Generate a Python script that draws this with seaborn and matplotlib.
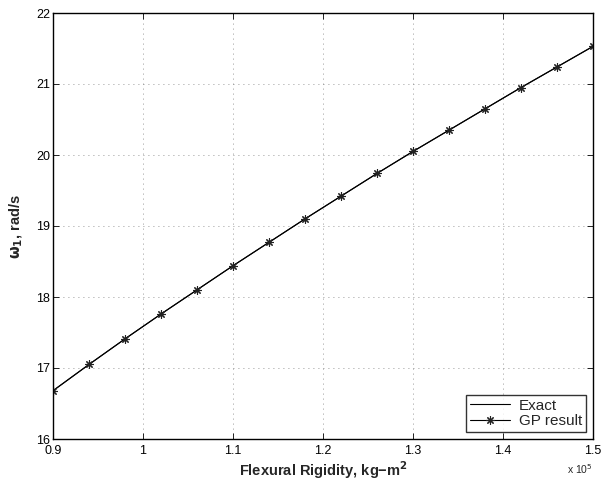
import matplotlib
matplotlib.use("Agg")
import matplotlib.pyplot as plt
import seaborn as sns
import pandas as pd

rigidity = [0.90, 0.94, 0.98, 1.02, 1.06, 1.10, 1.14, 1.18, 1.22, 1.26, 1.30, 1.34, 1.38, 1.42, 1.46, 1.50]
exact = [16.68, 17.05, 17.41, 17.76, 18.10, 18.44, 18.77, 19.10, 19.42, 19.74, 20.05, 20.35, 20.65, 20.95, 21.24, 21.53]
gp_result = [16.68, 17.05, 17.41, 17.76, 18.10, 18.44, 18.77, 19.10, 19.42, 19.74, 20.05, 20.35, 20.65, 20.95, 21.24, 21.53]
x_ticks = [0.9, 1.0, 1.1, 1.2, 1.3, 1.4, 1.5]
x_tick_labels = ["0.9", "1", "1.1", "1.2", "1.3", "1.4", "1.5"]
y_ticks = [16, 17, 18, 19, 20, 21, 22]

sns.set_style("white")
plt.rcParams['font.family'] = ['Liberation Sans', 'DejaVu Sans']

df_exact = pd.DataFrame({"x": rigidity, "y": exact})
df_gp = pd.DataFrame({"x": rigidity, "y": gp_result})

fig = plt.figure(figsize=(6.07, 4.84), dpi=100)
ax = fig.add_axes([53/607, 1 - 439/484, 540/607, 426/484])

sns.lineplot(data=df_exact, x="x", y="y", ax=ax, color="black", linewidth=0.8, label="Exact")
sns.lineplot(data=df_gp, x="x", y="y", ax=ax, color="black", linewidth=0.8,
             marker=(8, 2, 0), markersize=6, markeredgecolor="#222222", markeredgewidth=0.8,
             label="GP result")

ax.set_xlim(0.9, 1.5)
ax.set_ylim(16, 22)
ax.set_xticks(x_ticks)
ax.set_xticklabels(x_tick_labels)
ax.set_yticks(y_ticks)
ax.tick_params(direction="in", length=4, width=0.6, labelsize=9, top=True, right=True,
               bottom=True, left=True, pad=2, colors="black")
ax.tick_params(axis="x", pad=4)
ax.grid(True, linestyle=(0, (1, 5)), color="#777777", linewidth=0.6)
for s in ax.spines.values():
    s.set_color("black")
    s.set_linewidth(1.0)

ax.set_xlabel("Flexural Rigidity, kg\u2212m$^\\mathbf{2}$", fontsize=10.5, fontweight="bold", labelpad=2)
ax.set_ylabel("$\\mathbf{\\omega_1}$, rad/s", fontsize=10.5, fontweight="bold", labelpad=8)
ax.text(1.0, -0.055, "x 10$^5$", transform=ax.transAxes, ha="right", va="top", fontsize=7.5)

leg = ax.legend(loc="lower right", fontsize=11, frameon=True, fancybox=False,
                edgecolor="black", borderpad=0.25, handlelength=2.6, labelspacing=0.1,
                borderaxespad=0.45, handletextpad=0.6)
leg.get_frame().set_linewidth(1.0)

fig.savefig("out.png", dpi=100)
